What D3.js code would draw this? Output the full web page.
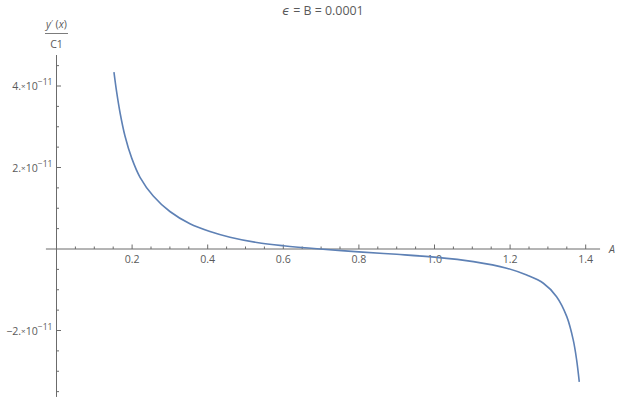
<!DOCTYPE html>
<html><head><meta charset="utf-8">
<script src="https://cdn.jsdelivr.net/npm/d3@7"></script>
<style>
html,body{margin:0;padding:0;background:#fff;}
svg{display:block;font-family:"Open Sans","DejaVu Sans",sans-serif;}
</style></head>
<body>
<svg id="chart" width="617" height="403"></svg>
<script>
// data (y in units of 1e-11)
const xValues = [0.152,0.159,0.168,0.181,0.199,0.221,0.256,0.300,0.353,0.406,0.459,0.530,0.600,0.697,0.800,0.900,1.000,1.103,1.191,1.244,1.288,1.323,1.350,1.367,1.376,1.383];
const yValues = [4.34,3.86,3.35,2.78,2.23,1.76,1.30,0.92,0.62,0.43,0.29,0.16,0.08,0.0,-0.07,-0.13,-0.20,-0.31,-0.47,-0.64,-0.84,-1.17,-1.66,-2.23,-2.72,-3.26];
const xTickLabels = ["0.2","0.4","0.6","0.8","1.0","1.2","1.4"];
const xTicks = [0.2,0.4,0.6,0.8,1.0,1.2,1.4];
const yTicks = [4,2,-2];
const yTickMantissa = ["4.","2.","\u22122."];
const title = "B = 0.0001";

const svg = d3.select("#chart");
const x = d3.scaleLinear().domain([0,1.4]).range([56.5,585.7]);
const y = d3.scaleLinear().domain([0,4]).range([249,86]);
const axisCol = "#6b6b6b", textCol = "#5a5a5a";

// title
const t = svg.append("text").attr("x",323).attr("y",15).attr("text-anchor","middle")
  .attr("font-size",12.4).attr("fill",textCol);
t.append("tspan").attr("font-style","italic").text("\u03f5");
t.append("tspan").text(" = " + title);

// x axis
const xa = svg.append("g");
xa.append("line").attr("x1",x(-0.028)).attr("x2",x(1.438)).attr("y1",y(0)).attr("y2",y(0))
  .attr("stroke",axisCol).attr("stroke-width",1);
const minorX = d3.range(1,29).map(i=>i*0.05);
xa.selectAll("line.mx").data(minorX).join("line")
  .attr("x1",d=>x(d)).attr("x2",d=>x(d))
  .attr("y1",y(0)).attr("y2",(d,i)=> (i%4===3)? y(0)-4.5 : y(0)-2.5)
  .attr("stroke",axisCol).attr("stroke-width",1);
xa.selectAll("text").data(xTicks).join("text")
  .attr("x",d=>x(d)).attr("y",y(0)+13.5).attr("text-anchor","middle")
  .attr("font-size",10.6).attr("fill",textCol).text((d,i)=>xTickLabels[i]);
svg.append("text").attr("x",609).attr("y",y(0)+4).attr("font-size",10.6)
  .attr("font-style","italic").attr("fill",textCol).text("A");

// y axis
const ya = svg.append("g");
ya.append("line").attr("x1",x(0)).attr("x2",x(0)).attr("y1",y(4.76)).attr("y2",y(-3.63))
  .attr("stroke",axisCol).attr("stroke-width",1);
const minorY = d3.range(-7,10).map(i=>i*0.5).filter(d=>d!==0);
ya.selectAll("line.my").data(minorY).join("line")
  .attr("x1",x(0)).attr("x2",d=> (Math.abs(d%2)<1e-9)? x(0)+4.5 : x(0)+2.5)
  .attr("y1",d=>y(d)).attr("y2",d=>y(d))
  .attr("stroke",axisCol).attr("stroke-width",1);
yTicks.forEach((d,i)=>{
  const tx = ya.append("text").attr("x",x(0)-4).attr("y",y(d)+4)
    .attr("text-anchor","end").attr("font-size",10.6).attr("fill",textCol);
  tx.append("tspan").text(yTickMantissa[i]);
  tx.append("tspan").attr("font-size",8).attr("dy",-1).text("\u00d7");
  tx.append("tspan").attr("dy",1).text("10");
  tx.append("tspan").attr("font-size",8.6).attr("dy",-5).text("\u221211");
});

// y label as fraction
const yl = svg.append("g").attr("fill",textCol).attr("font-size",10.6);
const num = yl.append("text").attr("x",56.5).attr("y",28).attr("text-anchor","middle");
num.append("tspan").attr("font-style","italic").text("y");
num.append("tspan").attr("font-size",8).attr("dy",-3).text("\u2032");
num.append("tspan").attr("dy",3).text(" (");
num.append("tspan").attr("font-style","italic").text("x");
num.append("tspan").text(")");
yl.append("line").attr("x1",45).attr("x2",68).attr("y1",33.5).attr("y2",33.5)
  .attr("stroke",textCol).attr("stroke-width",0.8);
yl.append("text").attr("x",56.5).attr("y",48).attr("text-anchor","middle").text("C1");

// curve
const pts = xValues.map((v,i)=>[v,yValues[i]]);
svg.append("path").datum(pts)
  .attr("d", d3.line().x(d=>x(d[0])).y(d=>y(d[1])).curve(d3.curveCatmullRom.alpha(0.5)))
  .attr("fill","none").attr("stroke","#5e81b5").attr("stroke-width",1.6);
</script>
</body></html>
